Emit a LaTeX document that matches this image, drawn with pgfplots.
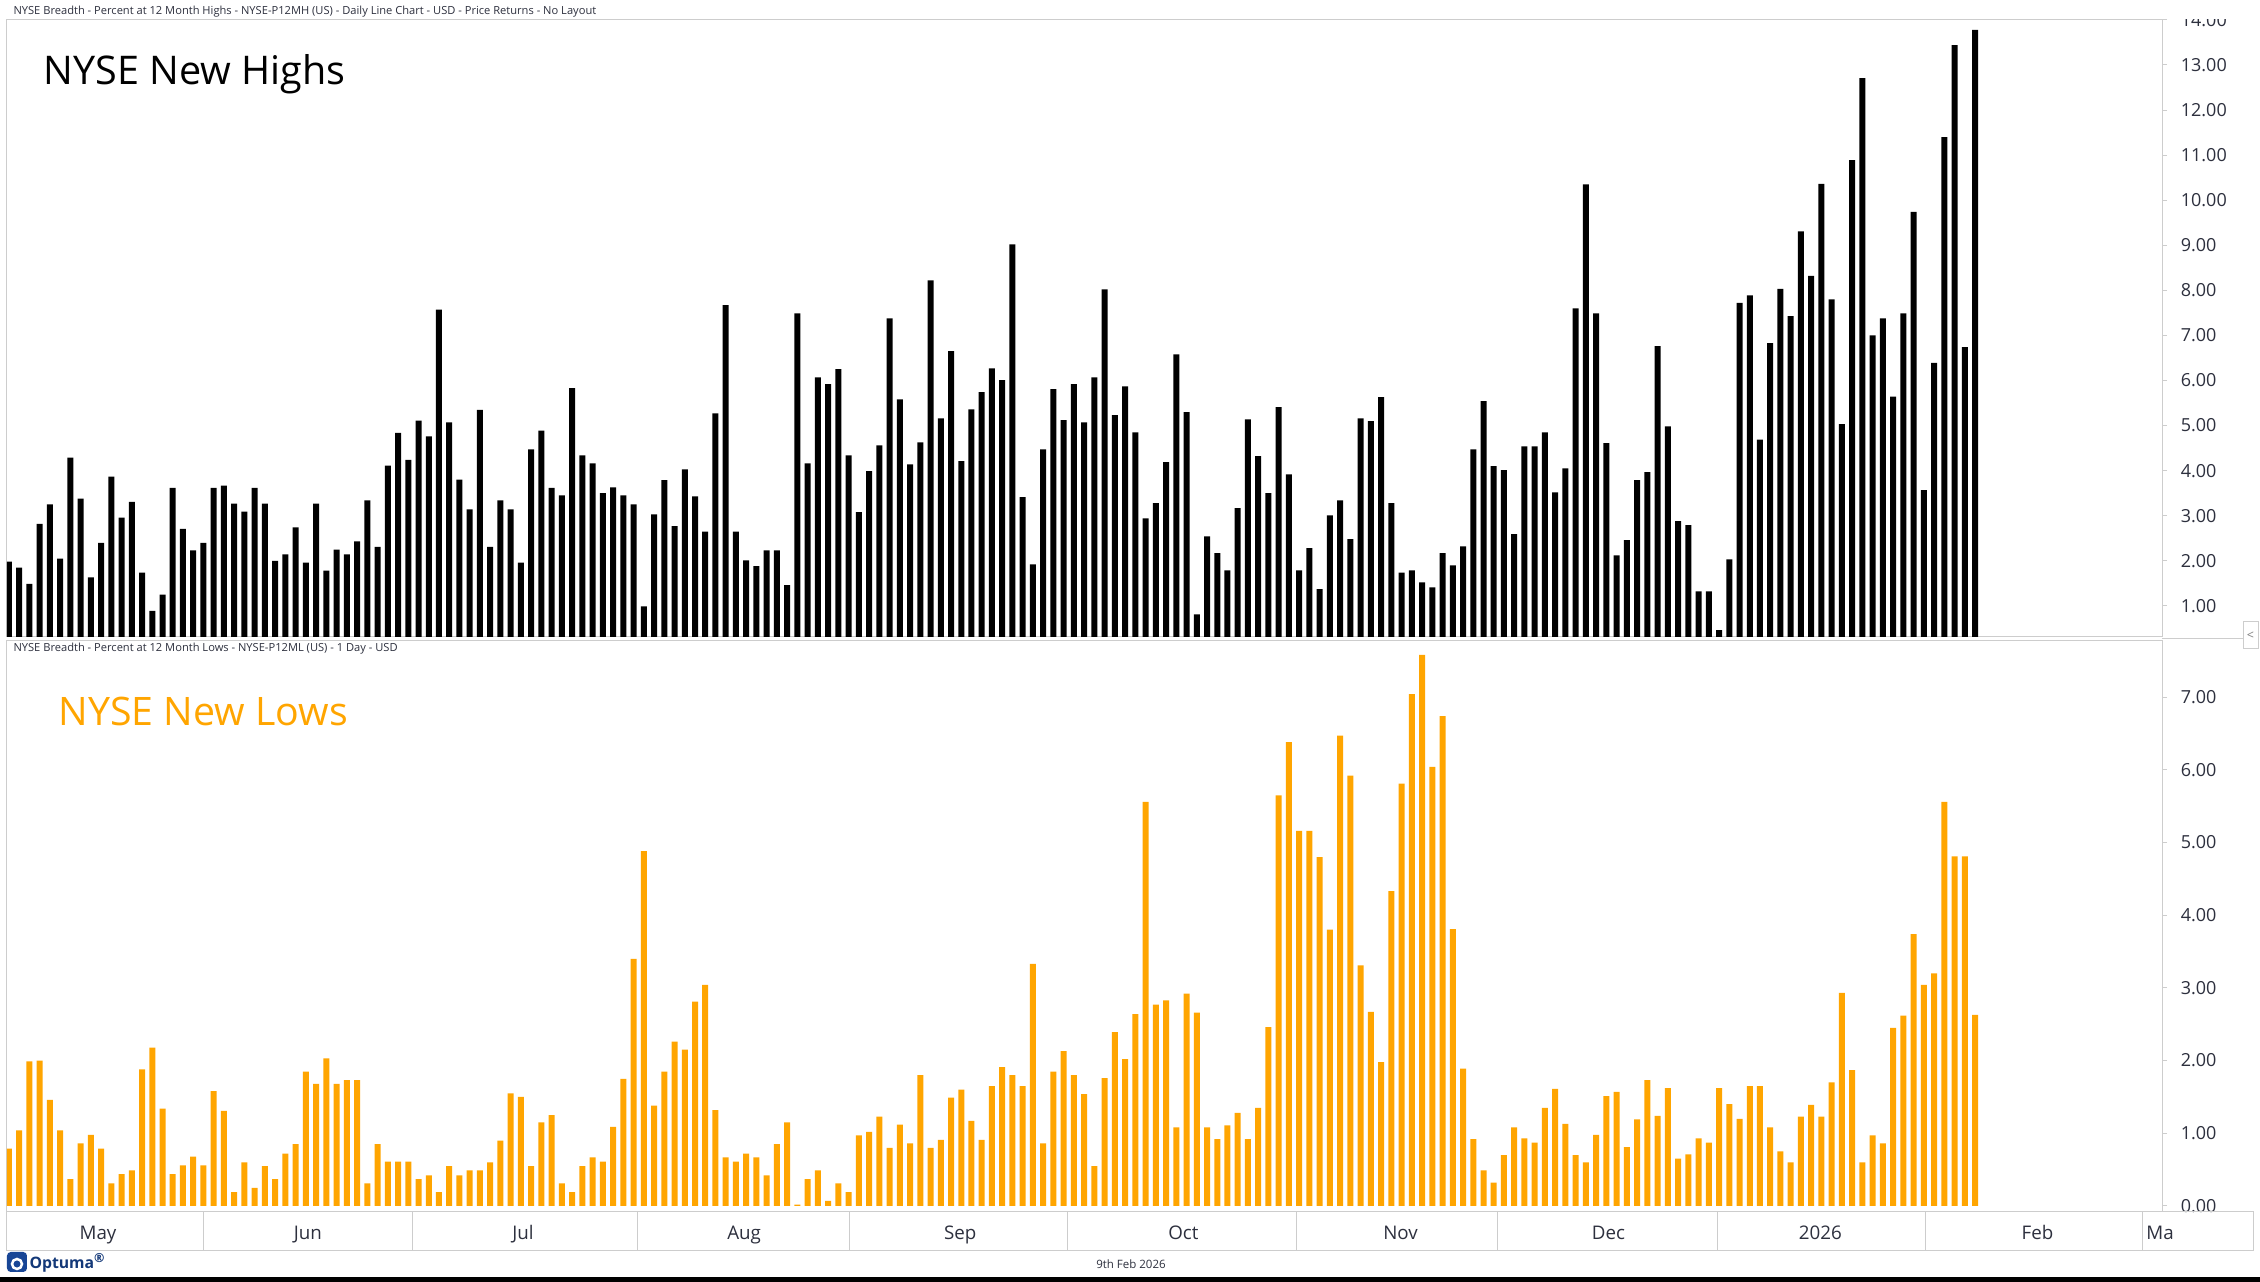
\documentclass[border=0pt]{standalone}
\usepackage{pgfplots}
\pgfplotsset{compat=1.18}
\usepackage{pgfplotstable}
\usepackage{fontspec}
\setmainfont{Open Sans}

\definecolor{lowbar}{RGB}{255,165,0}
\definecolor{frame}{RGB}{205,205,205}
\definecolor{ticktext}{RGB}{45,48,62}
\definecolor{optblue}{RGB}{24,70,150}

% daily values, % of NYSE stocks at 12 month highs / lows
\pgfplotstableread{
day high low
0 1.98 0.79
1 1.85 1.04
2 1.49 1.99
3 2.82 2.00
4 3.25 1.46
5 2.05 1.04
6 4.29 0.37
7 3.38 0.86
8 1.63 0.98
9 2.40 0.79
10 3.87 0.31
11 2.96 0.44
12 3.31 0.49
13 1.74 1.88
14 0.89 2.18
15 1.25 1.34
16 3.62 0.44
17 2.71 0.56
18 2.23 0.68
19 2.40 0.56
20 3.62 1.58
21 3.67 1.31
22 3.27 0.19
23 3.09 0.60
24 3.62 0.25
25 3.27 0.55
26 2.00 0.37
27 2.14 0.72
28 2.74 0.85
29 1.96 1.85
30 3.27 1.68
31 1.78 2.03
32 2.25 1.68
33 2.14 1.73
34 2.43 1.73
35 3.34 0.31
36 2.31 0.85
37 4.11 0.61
38 4.84 0.61
39 4.24 0.61
40 5.11 0.37
41 4.76 0.42
42 7.57 0.19
43 5.07 0.55
44 3.80 0.42
45 3.14 0.49
46 5.35 0.49
47 2.31 0.60
48 3.34 0.90
49 3.14 1.55
50 1.96 1.50
51 4.47 0.55
52 4.89 1.15
53 3.62 1.25
54 3.45 0.31
55 5.83 0.19
56 4.34 0.55
57 4.16 0.67
58 3.50 0.61
59 3.63 1.09
60 3.45 1.75
61 3.25 3.40
62 0.99 4.88
63 3.03 1.38
64 3.79 1.85
65 2.77 2.26
66 4.03 2.15
67 3.43 2.81
68 2.65 3.04
69 5.27 1.32
70 7.67 0.67
71 2.65 0.61
72 2.01 0.72
73 1.88 0.67
74 2.23 0.42
75 2.23 0.85
76 1.46 1.15
77 7.49 0.02
78 4.16 0.37
79 6.07 0.49
80 5.92 0.07
81 6.25 0.31
82 4.34 0.19
83 3.08 0.97
84 3.99 1.02
85 4.56 1.23
86 7.38 0.80
87 5.58 1.12
88 4.14 0.86
89 4.63 1.80
90 8.22 0.80
91 5.16 0.91
92 6.65 1.49
93 4.21 1.60
94 5.36 1.17
95 5.74 0.91
96 6.27 1.65
97 6.01 1.91
98 9.02 1.80
99 3.41 1.65
100 1.92 3.33
101 4.47 0.86
102 5.81 1.85
103 5.12 2.13
104 5.92 1.80
105 5.07 1.54
106 6.07 0.55
107 8.02 1.76
108 5.23 2.39
109 5.87 2.02
110 4.85 2.64
111 2.94 5.56
112 3.28 2.77
113 4.19 2.83
114 6.58 1.08
115 5.30 2.92
116 0.81 2.66
117 2.54 1.08
118 2.17 0.92
119 1.79 1.11
120 3.17 1.28
121 5.14 0.92
122 4.32 1.35
123 3.50 2.46
124 5.41 5.65
125 3.92 6.38
126 1.79 5.16
127 2.28 5.16
128 1.37 4.80
129 3.01 3.80
130 3.34 6.47
131 2.48 5.92
132 5.16 3.31
133 5.10 2.67
134 5.63 1.98
135 3.28 4.33
136 1.74 5.81
137 1.79 7.04
138 1.52 7.58
139 1.41 6.04
140 2.17 6.74
141 1.90 3.81
142 2.32 1.89
143 4.47 0.92
144 5.54 0.49
145 4.10 0.32
146 4.01 0.70
147 2.59 1.08
148 4.54 0.93
149 4.54 0.87
150 4.85 1.35
151 3.52 1.61
152 4.05 1.13
153 7.60 0.70
154 10.35 0.60
155 7.49 0.98
156 4.61 1.51
157 2.12 1.57
158 2.46 0.81
159 3.79 1.19
160 3.97 1.73
161 6.76 1.24
162 4.98 1.62
163 2.88 0.65
164 2.79 0.71
165 1.32 0.93
166 1.32 0.87
167 0.46 1.62
168 2.03 1.40
169 7.72 1.20
170 7.89 1.65
171 4.69 1.65
172 6.83 1.08
173 8.03 0.75
174 7.43 0.60
175 9.31 1.23
176 8.32 1.39
177 10.36 1.23
178 7.80 1.70
179 5.03 2.93
180 10.89 1.87
181 12.71 0.60
182 7.00 0.97
183 7.38 0.86
184 5.64 2.45
185 7.49 2.62
186 9.74 3.74
187 3.57 3.04
188 6.39 3.20
189 11.40 5.56
190 13.44 4.81
191 6.74 4.81
192 13.78 2.63
}\breadth

\pgfplotsset{
  panel/.style={
    scale only axis, width=862pt,
    xmin=-0.186, xmax=210.26,
    axis line style={draw=frame, line width=0.4pt},
    xtick=\empty,
    ytick pos=right, yticklabel pos=right,
    tick align=outside, major tick length=2pt,
    tick style={draw=frame, line width=0.4pt},
    yticklabel style={font=\fontsize{7.2}{8}\selectfont, text=ticktext, xshift=2pt,
      /pgf/number format/fixed, /pgf/number format/fixed zerofill,
      /pgf/number format/precision=2},
    /pgf/number format/assume math mode=true,
    ybar, bar width=2.4pt,
  },
}

\begin{document}
\begin{tikzpicture}
% page = 2260 x 1282 px, 1 px = 0.4pt
\clip (0,0) rectangle (904pt,512.8pt);
\fill[white] (0,0) rectangle (904pt,512.8pt);

% new highs
\begin{axis}[panel, at={(2.8pt,258pt)}, anchor=south west, height=246.84pt,
  ymin=0.31, ymax=14, ytick={1,...,14}]
\addplot[fill=black, draw=none] table[x=day, y=high] {\breadth};
\end{axis}

% new lows
\begin{axis}[panel, at={(2.8pt,28pt)}, anchor=south west, height=228.4pt,
  ymin=-0.0825, ymax=7.772, ytick={0,...,7}]
\addplot[fill=lowbar, draw=none] table[x=day, y=low] {\breadth};
\end{axis}

% month strip
\begin{axis}[scale only axis, at={(2.8pt,12.4pt)}, anchor=south west,
  width=898.4pt, height=15.6pt,
  xmin=-0.186, xmax=219.15, ymin=0, ymax=1, ytick=\empty,
  axis line style={draw=frame, line width=0.4pt},
  xtick={8.7,29.2,50.2,71.8,92.9,114.7,135.9,156.2,176.9,198.1,210.07},
  xticklabels={May,Jun,Jul,Aug,Sep,Oct,Nov,Dec,2026,Feb,Ma},
  major tick length=0pt,
  xticklabel style={font=\fontsize{7.5}{9}\selectfont, text=ticktext, anchor=base, yshift=4.4pt, inner sep=0pt},
  extra x ticks={19.05,39.4,61.4,82.1,103.4,125.7,145.4,166.9,187.2,208.4},
  extra x tick labels={},
  extra x tick style={grid=major, major grid style={draw=frame, line width=0.4pt}},
]
\end{axis}

\begin{scope}[x=0.4pt, y=0.4pt]
% hide the part of the 14.00 label above the panel
\fill[white] (2163,1262.6) rectangle (2260,1282);

\node[anchor=west, inner sep=0pt, font=\fontsize{4.45}{5}\selectfont, text=ticktext] at (13,1270)
  {NYSE Breadth - Percent at 12 Month Highs - NYSE-P12MH (US) - Daily Line Chart - USD - Price Returns - No Layout};
\node[anchor=base west, inner sep=0pt, font=\fontsize{15.8}{18}\selectfont] at (43,1197) {NYSE New Highs};
\node[anchor=west, inner sep=0pt, font=\fontsize{4.45}{5}\selectfont, text=ticktext] at (13,633)
  {NYSE Breadth - Percent at 12 Month Lows - NYSE-P12ML (US) - 1 Day - USD};
\node[anchor=base west, inner sep=0pt, font=\fontsize{15.7}{18}\selectfont, text=lowbar] at (58,556) {NYSE New Lows};

% panel separator and collapse button
\draw[frame, line width=0.4pt] (2162,643) -- (2243,643);
\draw[frame, line width=0.4pt, fill=white] (2243,633) rectangle (2258,660);
\node[inner sep=0pt, font=\fontsize{5}{6}\selectfont, text=gray] at (2250.5,646.5) {<};

% footer
\fill[optblue, rounded corners=1.5pt] (7,10) rectangle (27,30);
\draw[white, line width=1pt] (17,18) circle (5);
\node[anchor=west, inner sep=0pt, font=\bfseries\fontsize{6.3}{7}\selectfont, text=optblue!80!black] at (29,19) {Optuma\textsuperscript{\tiny ®}};
\node[inner sep=0pt, font=\fontsize{4.6}{5}\selectfont, text=ticktext] at (1131,18) {9th Feb 2026};
\fill[black] (0,0) rectangle (2260,5);
\end{scope}
\end{tikzpicture}
\end{document}
